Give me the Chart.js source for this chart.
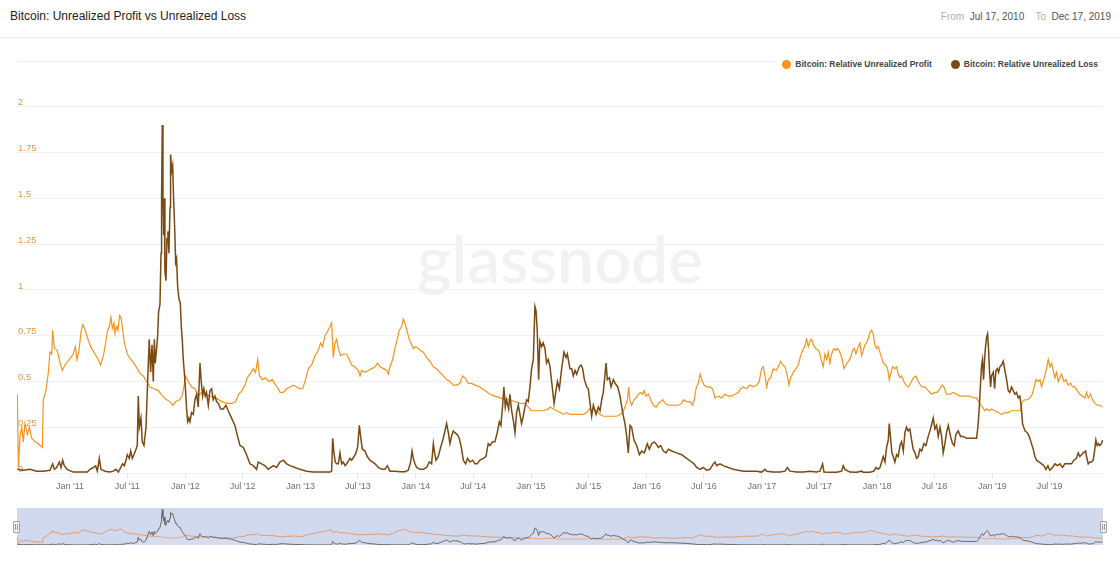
<!DOCTYPE html>
<html>
<head>
<meta charset="utf-8">
<script src="https://cdn.jsdelivr.net/npm/chart.js@4.4.1/dist/chart.umd.min.js"></script>
<style>
  html, body { margin:0; padding:0; background:#fff; }
  body { width:1120px; height:563px; position:relative; overflow:hidden; font-family:"Liberation Sans", Arial, sans-serif; }
  #title { position:absolute; left:10px; top:8px; font-size:12px; line-height:17px; color:#222; font-weight:500; white-space:nowrap; }
  #range { position:absolute; right:9px; top:9px; font-size:10px; line-height:16px; white-space:nowrap; }
  #range .lbl { color:#b0b0b0; }
  #range .val { color:#555; }
  #sep { position:absolute; left:0; top:37px; width:1120px; height:1px; background:#e8e8e8; }
  #legend { position:absolute; z-index:5; top:56px; right:20px; height:16px; padding-left:4px; padding-right:2px; background:#fff; font-size:8.5px; line-height:16px; font-weight:bold; color:#444; white-space:nowrap; display:flex; align-items:center; }
  #legend .item { display:flex; align-items:center; margin-left:19px; }
  #legend .item:first-child { margin-left:0; }
  #legend .dot { width:9px; height:9px; border-radius:50%; margin-right:4px; display:inline-block; }
  #watermark { position:absolute; white-space:nowrap; color:rgba(0,0,0,0.05); font-family:Lato, "Open Sans", sans-serif; font-weight:600; }
  #mainWrap { position:absolute; left:0; top:40px; width:1120px; height:460px; }
  #navWrap { position:absolute; left:17px; top:508px; width:1086px; height:37px; }
  .handle { position:absolute; top:521px; width:5px; height:10px; border:1px solid #a0a0a0; background:#f2f2f2; border-radius:1px; }
  .handle::before, .handle::after { content:""; position:absolute; top:2px; width:1px; height:6px; background:#999; }
  .handle::before { left:1px; } .handle::after { left:3px; }
</style>
</head>
<body>
<div id="title">Bitcoin: Unrealized Profit vs Unrealized Loss</div>
<div id="range"><span class="lbl">From</span>&nbsp;&nbsp;<span class="val">Jul 17, 2010</span>&nbsp;&nbsp;&nbsp;&nbsp;<span class="lbl">To</span>&nbsp;&nbsp;<span class="val">Dec 17, 2019</span></div>
<div id="sep"></div>
<div id="watermark">glassnode</div>
<div id="mainWrap"><canvas id="main"></canvas></div>
<div id="legend">
  <div class="item"><span class="dot" style="background:#f7931a"></span>Bitcoin: Relative Unrealized Profit</div>
  <div class="item"><span class="dot" style="background:#7b4a12"></span>Bitcoin: Relative Unrealized Loss</div>
</div>
<div id="navWrap"><canvas id="nav"></canvas></div>
<div class="handle" style="left:13px"></div>
<div class="handle" style="left:1100px"></div>
<script>
// ---- Data (x = decimal year, y = ratio) ----
const startYear = 2010.540;   // Jul 17, 2010
const endYear = 2019.959;     // Dec 17, 2019

const tickValues = [2011.0,2011.496,2012.0,2012.497,2013.0,2013.496,2014.0,2014.496,2015.0,2015.496,2016.0,2016.497,2017.0,2017.496,2018.0,2018.496,2019.0,2019.496];
const tickLabels = ["Jan '11","Jul '11","Jan '12","Jul '12","Jan '13","Jul '13","Jan '14","Jul '14","Jan '15","Jul '15","Jan '16","Jul '16","Jan '17","Jul '17","Jan '18","Jul '18","Jan '19","Jul '19"];

const yTickStep = 0.25;
const yMax = 2.25;

const profitSeries = [
[2010.543,0.43],[2010.552,0.03],[2010.566,0.20],[2010.581,0.25],[2010.595,0.17],[2010.609,0.27],[2010.630,0.21],[2010.647,0.25],[2010.667,0.19],[2010.696,0.17],[2010.725,0.16],[2010.760,0.14],[2010.768,0.40],[2010.791,0.45],[2010.812,0.55],[2010.826,0.66],[2010.841,0.65],[2010.849,0.78],[2010.864,0.68],[2010.890,0.67],[2010.913,0.60],[2010.933,0.56],[2010.956,0.59],[2010.994,0.62],[2011.028,0.65],[2011.046,0.69],[2011.060,0.62],[2011.078,0.67],[2011.095,0.77],[2011.109,0.81],[2011.127,0.79],[2011.150,0.74],[2011.179,0.69],[2011.216,0.65],[2011.245,0.62],[2011.265,0.59],[2011.289,0.64],[2011.309,0.71],[2011.326,0.78],[2011.341,0.80],[2011.355,0.85],[2011.367,0.79],[2011.381,0.82],[2011.390,0.76],[2011.404,0.80],[2011.416,0.78],[2011.430,0.86],[2011.442,0.85],[2011.453,0.80],[2011.471,0.71],[2011.497,0.65],[2011.526,0.62],[2011.554,0.60],[2011.583,0.57],[2011.612,0.54],[2011.635,0.53],[2011.664,0.50],[2011.693,0.47],[2011.728,0.46],[2011.765,0.45],[2011.803,0.42],[2011.838,0.40],[2011.867,0.39],[2011.890,0.37],[2011.916,0.39],[2011.948,0.40],[2011.971,0.42],[2011.985,0.46],[2012.002,0.53],[2012.026,0.50],[2012.054,0.47],[2012.083,0.46],[2012.112,0.42],[2012.141,0.44],[2012.176,0.43],[2012.213,0.42],[2012.265,0.41],[2012.315,0.39],[2012.364,0.38],[2012.407,0.38],[2012.436,0.39],[2012.462,0.43],[2012.491,0.45],[2012.517,0.48],[2012.537,0.52],[2012.560,0.54],[2012.589,0.57],[2012.609,0.55],[2012.627,0.62],[2012.644,0.53],[2012.667,0.51],[2012.696,0.52],[2012.725,0.50],[2012.754,0.51],[2012.783,0.48],[2012.806,0.46],
[2012.821,0.44],[2012.850,0.44],[2012.879,0.46],[2012.908,0.47],[2012.937,0.48],[2012.966,0.47],[2012.994,0.46],[2013.018,0.46],[2013.038,0.50],[2013.067,0.57],[2013.096,0.59],[2013.125,0.64],[2013.153,0.67],[2013.174,0.71],[2013.191,0.69],[2013.211,0.75],[2013.231,0.77],[2013.255,0.80],[2013.269,0.82],[2013.283,0.63],[2013.298,0.71],[2013.312,0.73],[2013.327,0.68],[2013.347,0.64],[2013.370,0.65],[2013.399,0.65],[2013.422,0.62],[2013.442,0.59],[2013.471,0.58],[2013.500,0.56],[2013.515,0.53],[2013.529,0.56],[2013.558,0.55],[2013.587,0.56],[2013.616,0.57],[2013.645,0.58],[2013.668,0.60],[2013.688,0.58],[2013.717,0.57],[2013.746,0.56],[2013.760,0.54],[2013.775,0.58],[2013.798,0.62],[2013.818,0.68],[2013.838,0.73],[2013.856,0.78],[2013.876,0.80],[2013.890,0.84],[2013.905,0.82],[2013.925,0.77],[2013.942,0.73],[2013.963,0.70],[2013.977,0.68],[2014.000,0.69],[2014.020,0.68],[2014.035,0.67],[2014.064,0.66],[2014.093,0.63],[2014.122,0.61],[2014.151,0.58],[2014.179,0.57],[2014.208,0.55],[2014.237,0.53],[2014.266,0.51],[2014.295,0.50],[2014.324,0.48],[2014.353,0.48],[2014.382,0.49],[2014.405,0.53],[2014.425,0.52],[2014.454,0.49],[2014.483,0.49],[2014.512,0.48],[2014.555,0.47],[2014.599,0.45],[2014.642,0.43],[2014.685,0.42],[2014.729,0.41],[2014.772,0.40],[2014.815,0.40],[2014.859,0.39],[2014.902,0.38],[2014.945,0.38],[2014.974,0.36],[2015.003,0.34],[2015.032,0.34],[2015.061,0.34],[2015.104,0.34],[2015.148,0.35],
[2015.163,0.36],[2015.192,0.35],[2015.221,0.34],[2015.250,0.33],[2015.279,0.32],[2015.308,0.33],[2015.336,0.32],[2015.365,0.32],[2015.394,0.32],[2015.423,0.32],[2015.452,0.32],[2015.481,0.33],[2015.504,0.35],[2015.524,0.34],[2015.539,0.35],[2015.568,0.34],[2015.597,0.32],[2015.625,0.31],[2015.654,0.31],[2015.683,0.31],[2015.712,0.31],[2015.741,0.31],[2015.770,0.32],[2015.793,0.33],[2015.813,0.36],[2015.834,0.40],[2015.845,0.47],[2015.857,0.39],[2015.871,0.37],[2015.891,0.40],[2015.909,0.41],[2015.929,0.43],[2015.949,0.44],[2015.967,0.43],[2015.978,0.45],[2015.995,0.42],[2016.016,0.43],[2016.036,0.40],[2016.059,0.37],[2016.082,0.36],[2016.102,0.38],[2016.123,0.39],[2016.140,0.40],[2016.160,0.38],[2016.189,0.37],[2016.218,0.37],[2016.247,0.37],[2016.276,0.37],[2016.305,0.38],[2016.319,0.40],[2016.348,0.39],[2016.377,0.39],[2016.400,0.37],[2016.414,0.40],[2016.429,0.46],[2016.449,0.49],[2016.464,0.54],[2016.478,0.51],[2016.498,0.48],[2016.521,0.47],[2016.550,0.47],[2016.573,0.46],[2016.594,0.41],[2016.623,0.42],[2016.651,0.41],[2016.680,0.43],[2016.709,0.42],[2016.738,0.42],[2016.767,0.43],[2016.796,0.44],[2016.816,0.46],[2016.839,0.47],[2016.868,0.46],[2016.897,0.48],[2016.926,0.47],[2016.955,0.48],[2016.978,0.50],[2016.998,0.57],[2017.013,0.58],[2017.027,0.53],[2017.042,0.47],[2017.056,0.51],[2017.076,0.52],[2017.099,0.57],[2017.123,0.56],[2017.143,0.58],[2017.163,0.61],[2017.180,0.59],[2017.201,0.58],[2017.221,0.53],[2017.235,0.48],[2017.250,0.52],[2017.273,0.55],[2017.296,0.57],[2017.316,0.59],[2017.336,0.64],[2017.354,0.67],[2017.371,0.69],[2017.388,0.73],[2017.403,0.69],[2017.417,0.72],[2017.432,0.73],[2017.446,0.70],[2017.467,0.68],[2017.490,0.67],
[2017.504,0.65],[2017.518,0.61],[2017.533,0.58],[2017.547,0.65],[2017.562,0.62],[2017.576,0.66],[2017.591,0.60],[2017.605,0.65],[2017.625,0.68],[2017.640,0.67],[2017.654,0.68],[2017.669,0.67],[2017.683,0.65],[2017.698,0.62],[2017.712,0.57],[2017.729,0.59],[2017.750,0.61],[2017.770,0.63],[2017.787,0.67],[2017.802,0.68],[2017.816,0.65],[2017.836,0.69],[2017.851,0.71],[2017.865,0.64],[2017.880,0.67],[2017.894,0.70],[2017.909,0.71],[2017.926,0.74],[2017.938,0.77],[2017.952,0.78],[2017.966,0.76],[2017.981,0.70],[2017.995,0.68],[2018.010,0.69],[2018.024,0.66],[2018.039,0.63],[2018.053,0.60],[2018.073,0.59],[2018.091,0.57],[2018.105,0.51],[2018.117,0.54],[2018.134,0.58],[2018.154,0.57],[2018.169,0.58],[2018.183,0.54],[2018.198,0.52],[2018.212,0.53],[2018.232,0.50],[2018.250,0.48],[2018.270,0.47],[2018.290,0.49],[2018.313,0.52],[2018.336,0.53],[2018.357,0.50],[2018.386,0.47],[2018.414,0.47],[2018.443,0.45],[2018.472,0.43],[2018.501,0.44],[2018.521,0.44],[2018.545,0.46],[2018.565,0.48],[2018.579,0.47],[2018.602,0.43],[2018.631,0.43],[2018.660,0.44],[2018.689,0.43],[2018.718,0.42],[2018.747,0.42],[2018.776,0.42],[2018.805,0.42],[2018.834,0.41],[2018.862,0.41],[2018.880,0.39],[2018.897,0.37],[2018.914,0.36],[2018.935,0.34],[2018.949,0.35],[2018.972,0.34],[2018.992,0.35],[2019.021,0.34],[2019.050,0.33],[2019.079,0.32],[2019.108,0.33],[2019.137,0.33],[2019.166,0.34],[2019.195,0.34],[2019.224,0.34],[2019.244,0.34],[2019.258,0.39],[2019.282,0.40],[2019.302,0.40],[2019.325,0.41],[2019.345,0.43],[2019.362,0.47],[2019.377,0.51],[2019.397,0.50],[2019.412,0.51],[2019.426,0.47],[2019.440,0.50],[2019.455,0.53],[2019.469,0.57],[2019.484,0.62],[2019.498,0.58],[2019.513,0.60],[2019.527,0.56],[2019.542,0.52],[2019.556,0.55],[2019.571,0.50],[2019.585,0.52],[2019.599,0.54],[2019.620,0.50],[2019.637,0.51],[2019.657,0.48],[2019.677,0.49],[2019.695,0.47],[2019.715,0.47],[2019.735,0.45],[2019.758,0.43],[2019.779,0.42],[2019.802,0.41],[2019.816,0.44],[2019.831,0.41],[2019.851,0.43],[2019.868,0.40],[2019.888,0.38],[2019.909,0.37],[2019.932,0.37],[2019.955,0.36]
];

const lossSeries = [
[2010.543,0.02],[2010.595,0.015],[2010.653,0.02],[2010.711,0.01],[2010.768,0.01],[2010.826,0.015],[2010.849,0.05],[2010.864,0.02],[2010.884,0.03],[2010.907,0.06],[2010.922,0.03],[2010.936,0.07],[2010.950,0.04],[2010.976,0.02],[2011.028,0.005],[2011.101,0.005],[2011.150,0.005],[2011.173,0.02],[2011.202,0.03],[2011.222,0.04],[2011.237,0.01],[2011.254,0.08],[2011.268,0.02],[2011.303,0.01],[2011.346,0.005],[2011.375,0.01],[2011.398,0.02],[2011.419,0.005],[2011.439,0.03],[2011.456,0.05],[2011.471,0.04],[2011.485,0.07],[2011.497,0.10],[2011.514,0.08],[2011.526,0.12],[2011.540,0.08],[2011.554,0.10],[2011.572,0.13],[2011.583,0.15],[2011.592,0.42],[2011.601,0.25],[2011.615,0.30],[2011.627,0.17],[2011.641,0.15],[2011.659,0.25],[2011.673,0.50],[2011.687,0.73],[2011.699,0.55],[2011.711,0.70],[2011.722,0.50],[2011.731,0.73],[2011.739,0.60],[2011.751,0.68],[2011.760,0.75],[2011.768,0.88],[2011.780,0.92],[2011.789,1.20],[2011.794,1.50],[2011.800,1.90],[2011.806,1.50],[2011.812,1.30],[2011.817,1.50],[2011.823,1.10],[2011.832,1.05],[2011.841,1.28],[2011.849,1.32],[2011.858,1.20],[2011.867,1.45],[2011.872,1.74],[2011.881,1.65],[2011.890,1.68],[2011.898,1.50],[2011.907,1.35],[2011.916,1.15],[2011.924,1.17],[2011.933,1.02],[2011.945,0.95],[2011.956,0.93],[2011.965,0.80],[2011.974,0.72],[2011.982,0.62],[2011.991,0.55],[2012.002,0.45],[2012.011,0.35],[2012.020,0.28],[2012.031,0.30],[2012.040,0.28],[2012.054,0.33],[2012.069,0.32],[2012.083,0.40],[2012.098,0.43],[2012.112,0.36],[2012.127,0.60],[2012.138,0.50],[2012.150,0.42],[2012.161,0.46],[2012.173,0.42],[2012.184,0.44],[2012.199,0.37],[2012.213,0.45],[2012.228,0.46],[2012.242,0.40],[2012.257,0.42],[2012.271,0.39],[2012.286,0.38],[2012.306,0.35],[2012.329,0.35],[2012.352,0.37],[2012.372,0.34],[2012.401,0.30],[2012.430,0.26],[2012.453,0.20],[2012.474,0.15],[2012.502,0.14],[2012.531,0.10],[2012.560,0.05],[2012.589,0.04],[2012.618,0.02],[2012.632,0.06],[2012.661,0.05],[2012.690,0.04],[2012.719,0.02],[2012.762,0.04],[2012.791,0.03],[2012.820,0.06],
[2012.850,0.07],[2012.879,0.05],[2012.908,0.04],[2012.951,0.03],[2012.994,0.02],[2013.052,0.01],[2013.110,0.005],[2013.168,0.005],[2013.226,0.005],[2013.255,0.005],[2013.269,0.01],[2013.278,0.19],[2013.289,0.11],[2013.301,0.06],[2013.312,0.05],[2013.327,0.05],[2013.341,0.11],[2013.356,0.05],[2013.370,0.06],[2013.385,0.04],[2013.399,0.05],[2013.428,0.08],[2013.442,0.07],[2013.463,0.09],[2013.480,0.11],[2013.494,0.14],[2013.509,0.26],[2013.520,0.20],[2013.535,0.13],[2013.558,0.12],[2013.578,0.09],[2013.601,0.07],[2013.625,0.06],[2013.645,0.05],[2013.674,0.03],[2013.703,0.02],[2013.731,0.02],[2013.752,0.04],[2013.775,0.01],[2013.818,0.01],[2013.862,0.007],[2013.905,0.007],[2013.934,0.015],[2013.954,0.06],[2013.966,0.12],[2013.977,0.08],[2013.992,0.05],[2014.006,0.03],[2014.035,0.02],[2014.064,0.02],[2014.093,0.03],[2014.116,0.06],[2014.136,0.05],[2014.151,0.16],[2014.162,0.11],[2014.174,0.07],[2014.194,0.09],[2014.214,0.14],[2014.237,0.19],[2014.252,0.23],[2014.266,0.27],[2014.281,0.22],[2014.295,0.16],[2014.309,0.20],[2014.324,0.23],[2014.338,0.22],[2014.359,0.21],[2014.376,0.19],[2014.396,0.13],[2014.411,0.07],[2014.431,0.05],[2014.448,0.08],[2014.468,0.06],[2014.492,0.07],[2014.512,0.05],[2014.532,0.05],[2014.555,0.07],[2014.584,0.08],[2014.607,0.09],[2014.627,0.16],[2014.642,0.15],[2014.665,0.17],[2014.685,0.17],[2014.705,0.22],[2014.723,0.28],[2014.737,0.26],[2014.752,0.37],[2014.763,0.47],[2014.775,0.36],[2014.786,0.40],[2014.804,0.35],[2014.815,0.43],[2014.830,0.34],[2014.844,0.29],[2014.859,0.22],[2014.873,0.33],[2014.888,0.37],[2014.902,0.32],[2014.916,0.27],[2014.931,0.31],[2014.945,0.36],[2014.960,0.40],[2014.974,0.39],[2014.989,0.47],[2015.003,0.57],[2015.018,0.62],[2015.032,0.91],[2015.041,0.89],[2015.052,0.78],[2015.064,0.51],[2015.075,0.72],[2015.090,0.69],[2015.104,0.71],[2015.119,0.68],[2015.133,0.60],[2015.148,0.62],
[2015.163,0.58],[2015.198,0.38],[2015.227,0.50],[2015.244,0.46],[2015.264,0.57],[2015.284,0.66],[2015.302,0.63],[2015.313,0.65],[2015.336,0.57],[2015.351,0.57],[2015.365,0.53],[2015.380,0.56],[2015.394,0.54],[2015.417,0.58],[2015.432,0.59],[2015.446,0.57],[2015.461,0.51],[2015.481,0.47],[2015.495,0.46],[2015.510,0.38],[2015.524,0.31],[2015.539,0.37],[2015.562,0.32],[2015.582,0.36],[2015.597,0.34],[2015.611,0.40],[2015.625,0.44],[2015.649,0.60],[2015.660,0.51],[2015.678,0.52],[2015.692,0.47],[2015.712,0.51],[2015.727,0.49],[2015.750,0.47],[2015.770,0.42],[2015.793,0.33],[2015.813,0.27],[2015.828,0.20],[2015.842,0.11],[2015.857,0.26],[2015.871,0.25],[2015.891,0.18],[2015.914,0.15],[2015.938,0.10],[2015.958,0.12],[2015.981,0.11],[2016.007,0.16],[2016.024,0.13],[2016.045,0.16],[2016.065,0.17],[2016.082,0.16],[2016.102,0.14],[2016.123,0.15],[2016.146,0.12],[2016.169,0.11],[2016.189,0.13],[2016.218,0.12],[2016.261,0.11],[2016.305,0.10],[2016.348,0.08],[2016.391,0.06],[2016.412,0.05],[2016.435,0.03],[2016.464,0.02],[2016.493,0.03],[2016.521,0.015],[2016.550,0.02],[2016.579,0.05],[2016.594,0.06],[2016.608,0.04],[2016.637,0.05],[2016.666,0.04],[2016.709,0.03],[2016.753,0.02],[2016.796,0.015],[2016.839,0.01],[2016.897,0.01],[2016.955,0.01],[2016.998,0.005],[2017.027,0.02],[2017.042,0.01],[2017.099,0.005],[2017.157,0.005],[2017.201,0.01],[2017.221,0.03],[2017.244,0.01],[2017.302,0.005],[2017.360,0.005],[2017.417,0.01],[2017.475,0.005],
[2017.504,0.01],[2017.527,0.05],[2017.539,0.005],[2017.591,0.004],[2017.649,0.004],[2017.692,0.01],[2017.706,0.04],[2017.721,0.02],[2017.764,0.005],[2017.822,0.004],[2017.865,0.01],[2017.880,0.004],[2017.938,0.004],[2017.972,0.01],[2017.990,0.03],[2018.010,0.02],[2018.024,0.03],[2018.039,0.06],[2018.053,0.09],[2018.068,0.06],[2018.082,0.14],[2018.097,0.18],[2018.105,0.27],[2018.117,0.19],[2018.128,0.11],[2018.140,0.09],[2018.154,0.06],[2018.169,0.10],[2018.183,0.09],[2018.198,0.15],[2018.212,0.17],[2018.227,0.12],[2018.241,0.22],[2018.255,0.25],[2018.270,0.23],[2018.284,0.24],[2018.299,0.18],[2018.313,0.13],[2018.328,0.11],[2018.342,0.08],[2018.357,0.09],[2018.371,0.13],[2018.386,0.12],[2018.406,0.16],[2018.423,0.15],[2018.443,0.20],[2018.458,0.23],[2018.475,0.27],[2018.487,0.30],[2018.501,0.24],[2018.516,0.26],[2018.530,0.20],[2018.545,0.25],[2018.559,0.20],[2018.573,0.11],[2018.588,0.16],[2018.602,0.22],[2018.617,0.26],[2018.637,0.20],[2018.654,0.16],[2018.669,0.15],[2018.683,0.21],[2018.703,0.23],[2018.724,0.20],[2018.747,0.20],[2018.776,0.19],[2018.805,0.19],[2018.834,0.19],[2018.862,0.19],[2018.874,0.25],[2018.886,0.36],[2018.897,0.49],[2018.906,0.59],[2018.914,0.62],[2018.923,0.51],[2018.932,0.62],[2018.940,0.69],[2018.949,0.74],[2018.958,0.76],[2018.966,0.68],[2018.975,0.55],[2018.984,0.47],[2018.992,0.53],[2019.007,0.55],[2019.019,0.46],[2019.030,0.56],[2019.042,0.57],[2019.053,0.55],[2019.065,0.58],[2019.079,0.59],[2019.094,0.61],[2019.108,0.56],[2019.123,0.51],[2019.137,0.45],[2019.151,0.44],[2019.166,0.47],[2019.180,0.45],[2019.195,0.43],[2019.209,0.44],[2019.224,0.41],[2019.238,0.42],[2019.250,0.36],[2019.261,0.27],[2019.282,0.23],[2019.302,0.22],[2019.319,0.20],[2019.334,0.17],[2019.354,0.13],[2019.368,0.09],[2019.383,0.07],[2019.406,0.06],[2019.426,0.05],[2019.446,0.04],[2019.464,0.02],[2019.481,0.04],[2019.498,0.015],[2019.521,0.03],[2019.542,0.05],[2019.562,0.04],[2019.585,0.05],[2019.608,0.03],[2019.628,0.05],[2019.649,0.05],[2019.672,0.05],[2019.686,0.05],[2019.706,0.07],[2019.729,0.08],[2019.744,0.11],[2019.758,0.09],[2019.773,0.10],[2019.787,0.11],[2019.808,0.12],[2019.816,0.09],[2019.831,0.05],[2019.845,0.06],[2019.860,0.06],[2019.874,0.07],[2019.888,0.13],[2019.897,0.18],[2019.909,0.15],[2019.920,0.16],[2019.932,0.15],[2019.946,0.16],[2019.955,0.18]
];

// ---- Watermark sizing/placement ----
(function(){
  const wm = document.getElementById('watermark');
  const c = document.createElement('canvas').getContext('2d');
  c.font = '600 100px Lato';
  const m = c.measureText('glassnode');
  const size = 100 * 286 / m.width;
  c.font = '600 ' + size + 'px Lato';
  const m2 = c.measureText('glassnode');
  const asc = m2.fontBoundingBoxAscent, desc = m2.fontBoundingBoxDescent;
  wm.style.fontSize = size + 'px';
  wm.style.lineHeight = (asc + desc) + 'px';
  wm.style.left = (560 - m2.width / 2) + 'px';
  wm.style.top = (283 - asc) + 'px';
})();

const toXY = arr => arr.map(p => ({ x: p[0], y: p[1] }));

// ---- Main chart ----
new Chart(document.getElementById('main'), {
  type: 'line',
  data: {
    datasets: [
      { label: 'Bitcoin: Relative Unrealized Loss', data: toXY(lossSeries), borderColor: '#7b4a12', borderWidth: 1.5, pointRadius: 0, tension: 0, order: 0 },
      { label: 'Bitcoin: Relative Unrealized Profit', data: toXY(profitSeries), borderColor: '#f7931a', borderWidth: 1.2, pointRadius: 0, tension: 0, order: 1 }
    ]
  },
  options: {
    responsive: true, maintainAspectRatio: false, animation: false, events: [],
    layout: { padding: { left: 17, right: 17, top: 21, bottom: 0 } },
    plugins: { legend: { display: false }, tooltip: { enabled: false } },
    scales: {
      x: {
        type: 'linear', min: startYear, max: endYear,
        afterBuildTicks: s => { s.ticks = tickValues.map(v => ({ value: v })); },
        afterFit: s => { s.height = 27; },
        ticks: {
          autoSkip: false, maxRotation: 0, minRotation: 0, padding: 2,
          color: '#707070', font: { family: '"Liberation Sans", Arial, sans-serif', size: 9 },
          callback: v => { const i = tickValues.findIndex(t => Math.abs(t - v) < 1e-6); return i >= 0 ? tickLabels[i] : ''; }
        },
        grid: { drawOnChartArea: false, drawTicks: true, tickLength: 6, color: '#e6e6e6' },
        border: { display: false }
      },
      y: {
        min: 0, max: yMax,
        afterFit: s => { s.width = 0; },
        ticks: {
          stepSize: yTickStep, mirror: true, padding: 1, labelOffset: -4,
          color: '#e29a52', font: { family: '"Liberation Sans", Arial, sans-serif', size: 9.5 },
          callback: v => (v > 2.01 ? '' : String(+v.toFixed(2)))
        },
        grid: { color: '#f0f0f0', drawTicks: false },
        border: { display: false }
      }
    }
  }
});

// ---- Navigator ----
const navBg = {
  id: 'navBg',
  beforeDatasetsDraw(chart) {
    const { ctx, chartArea: a } = chart;
    ctx.save(); ctx.fillStyle = '#d1d9ee'; ctx.fillRect(a.left, a.top, a.right - a.left, a.bottom - a.top); ctx.restore();
  }
};
new Chart(document.getElementById('nav'), {
  type: 'line',
  data: {
    datasets: [
      { data: toXY(lossSeries), borderColor: '#6c6864', borderWidth: 1, pointRadius: 0, tension: 0, fill: 'origin', backgroundColor: 'rgba(255,255,255,0.10)', order: 0 },
      { data: toXY(profitSeries), borderColor: '#e49c72', borderWidth: 1, pointRadius: 0, tension: 0, order: 1 }
    ]
  },
  options: {
    responsive: true, maintainAspectRatio: false, animation: false, events: [],
    layout: { padding: 0 },
    plugins: { legend: { display: false }, tooltip: { enabled: false } },
    scales: {
      x: { type: 'linear', display: false, min: startYear, max: endYear },
      y: { display: false, min: 0, max: 1.98 }
    }
  },
  plugins: [navBg]
});
</script>
</body>
</html>
